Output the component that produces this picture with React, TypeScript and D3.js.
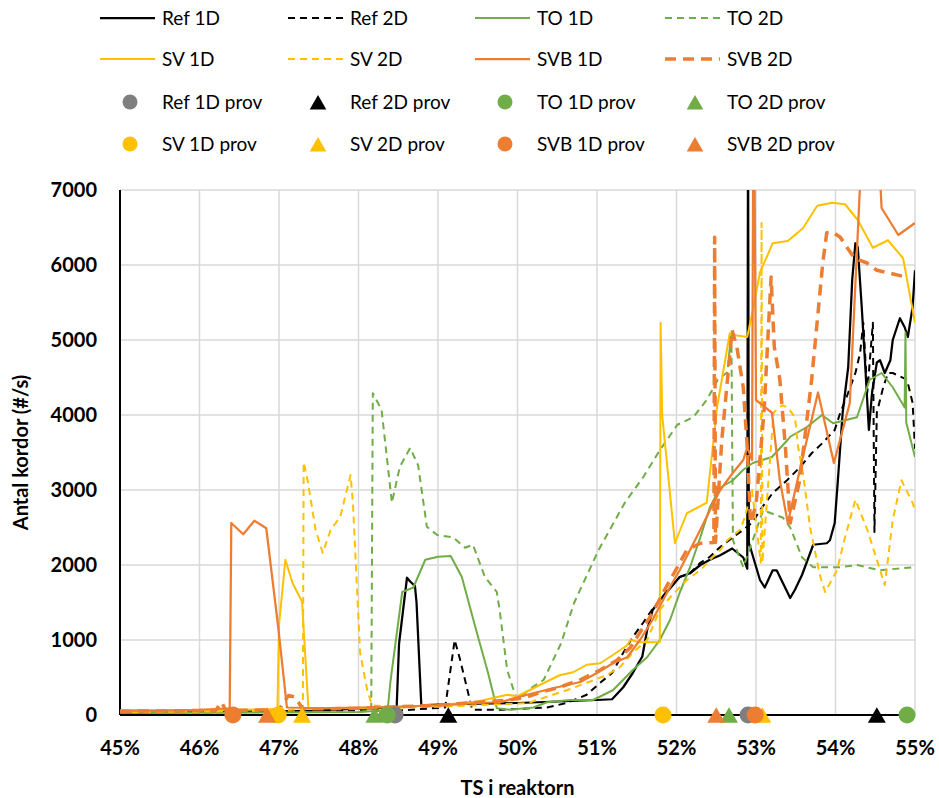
import React from 'react'
import * as d3 from 'd3'

// TS (%) vs antal kordor (#/s)
const ref1D: [number, number][] = [
  [45, 30], [46, 40], [47, 50], [47.5, 60], [48, 85], [48.3, 95], [48.48, 100], [48.51, 950], [48.61, 1830],
  [48.65, 1780], [48.71, 1720], [48.73, 1500], [48.79, 130], [49, 140], [49.5, 150], [50, 160], [50.5, 180],
  [51, 200], [51.19, 210], [51.33, 370], [51.45, 560], [51.57, 780], [51.63, 1130], [51.7, 1400], [51.79, 1530],
  [51.92, 1690], [52.04, 1840], [52.17, 1890], [52.3, 2000], [52.42, 2070], [52.55, 2130], [52.7, 2220],
  [52.77, 2160], [52.84, 2100], [52.89, 1950], [52.9, 8000], [52.91, 2300], [53.05, 1800],
  [53.11, 1700], [53.21, 1930], [53.26, 1930], [53.43, 1560], [53.49, 1670], [53.58, 1870], [53.72, 2270],
  [53.89, 2290], [53.93, 2330], [53.99, 2560], [54.03, 3130], [54.09, 4030], [54.16, 4640], [54.21, 5800],
  [54.25, 6290], [54.28, 6240], [54.33, 5440], [54.37, 4730], [54.42, 3800], [54.46, 4300], [54.52, 4700],
  [54.56, 4730], [54.62, 4560], [54.69, 4730], [54.72, 5000], [54.81, 5290], [54.87, 5170], [54.91, 5040],
  [54.97, 5440], [55, 5930],
]
const ref2D: [number, number][] = [
  [45, 40], [46, 45], [47, 50], [48, 60], [48.5, 60], [49.09, 100], [49.21, 1000], [49.28, 730], [49.38, 290],
  [49.43, 70], [49.8, 70], [50.37, 100], [50.62, 160], [50.87, 270], [51.04, 430], [51.19, 560], [51.33, 830],
  [51.45, 1040], [51.58, 1230], [51.69, 1400], [51.79, 1530], [51.92, 1710], [52.04, 1840], [52.17, 1890],
  [52.3, 2030], [52.42, 2110], [52.55, 2240], [52.7, 2360], [52.84, 2470], [52.96, 2570], [53.05, 2730],
  [53.21, 2960], [53.39, 3130], [53.55, 3300], [53.7, 3490], [53.84, 3630], [53.99, 3800], [54.06, 4030],
  [54.14, 4240], [54.25, 4560], [54.31, 4830], [54.35, 5230], [54.4, 4300], [54.47, 5230], [54.49, 2440],
  [54.52, 4030], [54.6, 4370], [54.66, 4560], [54.72, 4560], [54.9, 4470], [54.97, 4160], [55, 3550],
]
const to1D: [number, number][] = [
  [45, 30], [46, 30], [47, 35], [48, 40], [48.3, 60], [48.37, 100], [48.4, 430], [48.55, 1640], [48.69, 1700],
  [48.84, 2070], [49, 2110], [49.16, 2120], [49.3, 1840], [49.47, 1170], [49.63, 560], [49.74, 90], [49.9, 70],
  [50.2, 100], [50.37, 170], [50.66, 200], [50.95, 200], [51.2, 330], [51.33, 470], [51.45, 600], [51.63, 770],
  [51.79, 1000], [51.92, 1270], [52.04, 1630], [52.17, 1970], [52.3, 2370], [52.42, 2770], [52.55, 3030],
  [52.71, 3130], [52.84, 3270], [52.96, 3360], [53.2, 3440], [53.4, 3670], [53.43, 3710], [53.64, 3840],
  [53.83, 4000], [53.97, 3890], [54.27, 3970], [54.43, 4470], [54.58, 4560], [54.72, 4370], [54.87, 4100],
  [54.88, 5100], [54.89, 3900], [55, 3440],
]
const to2D: [number, number][] = [
  [45, 30], [46, 30], [47, 40], [48, 40], [48.16, 60], [48.18, 4290], [48.29, 4070], [48.35, 3500],
  [48.42, 2830], [48.52, 3310], [48.65, 3560], [48.75, 3330], [48.86, 2510], [48.99, 2400], [49.19, 2370],
  [49.34, 2230], [49.44, 2270], [49.59, 1840], [49.74, 1640], [49.78, 1360], [49.87, 600], [49.97, 270],
  [50.03, 200], [50.13, 330], [50.33, 470], [50.55, 960], [50.71, 1490], [51.02, 2200], [51.35, 2830],
  [51.58, 3170], [51.79, 3530], [52.01, 3870], [52.21, 3970], [52.38, 4200], [52.52, 4470], [52.64, 4570],
  [52.69, 5100], [52.71, 2330], [52.84, 1970], [53.09, 2730], [53.34, 2630], [53.43, 2500], [53.58, 2100],
  [53.72, 1970], [54.06, 1970], [54.27, 2000], [54.56, 1930], [54.97, 1970], [55, 1970],
]
const sv1D: [number, number][] = [
  [45, 60], [46, 60], [46.5, 70], [46.98, 80], [47, 1200], [47.08, 2070], [47.17, 1760], [47.29, 1510],
  [47.37, 90], [48, 90], [48.5, 110], [49, 130], [49.5, 180], [49.87, 270], [50, 250], [50.28, 400],
  [50.53, 530], [50.7, 570], [50.87, 670], [51.04, 690], [51.2, 800], [51.38, 930], [51.42, 1000],
  [51.54, 970], [51.79, 970], [51.8, 5230], [51.82, 4000], [51.98, 2290], [52.13, 2690], [52.38, 2830],
  [52.51, 4100], [52.67, 5090], [52.76, 5060], [52.89, 5040], [52.96, 5400], [53.05, 5900], [53.21, 6290],
  [53.4, 6320], [53.59, 6490], [53.77, 6790], [53.96, 6830], [54.12, 6810], [54.28, 6600], [54.47, 6230],
  [54.66, 6330], [54.85, 6090], [55, 5230],
]
const sv2D: [number, number][] = [
  [45, 40], [46, 45], [47, 60], [47.3, 80], [47.31, 3370], [47.36, 3130], [47.46, 2470], [47.55, 2160],
  [47.65, 2470], [47.77, 2640], [47.9, 3200], [47.93, 2830], [47.99, 1490], [48.02, 830], [48.11, 330],
  [48.17, 130], [48.5, 100], [49, 110], [49.5, 130], [49.9, 150], [50.13, 160], [50.62, 330], [50.87, 430],
  [51.12, 530], [51.29, 640], [51.45, 830], [51.63, 1000], [51.79, 1400], [51.92, 1570], [52.13, 1800],
  [52.3, 1930], [52.46, 2110], [52.55, 2200], [52.64, 2330], [52.8, 2470], [52.86, 2640], [52.95, 3000],
  [53.06, 2030], [53.07, 6560], [53.08, 2030], [53.22, 4030], [53.33, 4130], [53.4, 4100], [53.49, 3970],
  [53.53, 3570], [53.59, 3230], [53.68, 2500], [53.81, 1840], [53.87, 1640], [54.02, 1930], [54.1, 2290],
  [54.25, 2870], [54.4, 2470], [54.52, 2070], [54.62, 1730], [54.72, 2600], [54.83, 3130], [54.97, 2830],
  [55, 2730],
]
const svb1D: [number, number][] = [
  [45, 60], [45.5, 60], [46, 70], [46.2, 80], [46.38, 90], [46.4, 2560], [46.55, 2410], [46.69, 2590],
  [46.84, 2490], [46.99, 1170], [47.1, 100], [47.5, 90], [48, 100], [48.5, 110], [49, 130], [49.5, 160],
  [49.78, 170], [50.12, 270], [50.5, 370], [50.79, 440], [51, 560], [51.2, 690], [51.38, 770], [51.54, 1000],
  [51.7, 1270], [51.83, 1530], [51.92, 1710], [52.04, 1930], [52.17, 2200], [52.3, 2470], [52.42, 2730],
  [52.55, 3000], [52.71, 3230], [52.84, 3400], [52.89, 3570], [52.95, 3400], [52.97, 9000], [53, 4200],
  [53.2, 4030], [53.3, 3130], [53.4, 2560], [53.58, 3400], [53.78, 4300], [53.98, 3360], [54.18, 4160],
  [54.35, 8000], [54.52, 8000], [54.58, 6760], [54.79, 6400], [55, 6560],
]
const svb2D: [number, number][] = [
  [45, 50], [45.5, 55], [46, 60], [46.2, 60], [46.28, 170], [46.33, 60], [47, 70], [47.08, 200],
  [47.12, 260], [47.2, 240], [47.3, 80], [48, 90], [48.5, 110], [49, 130], [49.5, 170], [49.9, 200],
  [50.12, 240], [50.28, 300], [50.53, 370], [50.79, 470], [51.04, 600], [51.25, 730], [51.42, 900],
  [51.54, 1100], [51.7, 1360], [51.83, 1630], [52.01, 1970], [52.13, 2200], [52.3, 2290], [52.47, 2300],
  [52.48, 6370], [52.49, 2300], [52.57, 3670], [52.7, 5130], [52.76, 4900], [52.84, 4370], [52.89, 3570],
  [52.93, 2560], [53, 2800], [53.1, 4030], [53.19, 5840], [53.23, 4910], [53.3, 4470], [53.37, 3570],
  [53.43, 2560], [53.55, 3130], [53.7, 4470], [53.78, 5360], [53.84, 6030], [53.89, 6430], [53.96, 6440],
  [54.06, 6370], [54.14, 6240], [54.24, 6090], [54.39, 6030], [54.52, 5930], [54.69, 5890], [54.88, 5840],
]

// provpunkter (TS %) at 0
const ref1DProv = [48.46, 52.9]
const ref2DProv = [49.13, 54.52]
const to1DProv = [48.36, 54.9]
const to2DProv = [48.2, 52.66]
const sv1DProv = [46.99, 51.83]
const sv2DProv = [47.29, 53.08]
const svb1DProv = [46.42, 52.99]
const svb2DProv = [46.85, 52.5]

const xTicks = [45, 46, 47, 48, 49, 50, 51, 52, 53, 54, 55]
const yTicks = [0, 1000, 2000, 3000, 4000, 5000, 6000, 7000]

const BLACK = '#000000'
const GREEN = '#70AD47'
const YELLOW = '#FFC000'
const ORANGE = '#ED7D31'
const GRAY = '#7F7F7F'

const lines = [
  { name: 'Ref 1D', data: ref1D, color: BLACK, w: 2.25, dash: '' },
  { name: 'Ref 2D', data: ref2D, color: BLACK, w: 2, dash: '7,5' },
  { name: 'TO 1D', data: to1D, color: GREEN, w: 2, dash: '' },
  { name: 'TO 2D', data: to2D, color: GREEN, w: 2, dash: '7,5' },
  { name: 'SV 1D', data: sv1D, color: YELLOW, w: 2, dash: '' },
  { name: 'SV 2D', data: sv2D, color: YELLOW, w: 2, dash: '7,5' },
  { name: 'SVB 1D', data: svb1D, color: ORANGE, w: 2.25, dash: '' },
  { name: 'SVB 2D', data: svb2D, color: ORANGE, w: 3.5, dash: '11,7' },
]

const provs = [
  { name: 'Ref 1D prov', data: ref1DProv, color: GRAY, shape: 'c' },
  { name: 'Ref 2D prov', data: ref2DProv, color: BLACK, shape: 't' },
  { name: 'TO 1D prov', data: to1DProv, color: GREEN, shape: 'c' },
  { name: 'TO 2D prov', data: to2DProv, color: GREEN, shape: 't' },
  { name: 'SV 1D prov', data: sv1DProv, color: YELLOW, shape: 'c' },
  { name: 'SV 2D prov', data: sv2DProv, color: YELLOW, shape: 't' },
  { name: 'SVB 1D prov', data: svb1DProv, color: ORANGE, shape: 'c' },
  { name: 'SVB 2D prov', data: svb2DProv, color: ORANGE, shape: 't' },
]

const FONT = "Lato, 'Open Sans', sans-serif"

const App = () => {
  const left = 120, right = 915, top = 190, bottom = 715

  const x = d3.scaleLinear().domain([45, 55]).range([left, right])
  const y = d3.scaleLinear().domain([0, 7000]).range([bottom, top])

  const line = d3.line<[number, number]>().x(d => x(d[0])).y(d => y(d[1]))
  const tri = d3.symbol(d3.symbolTriangle, 140)()
  const triLegend = d3.symbol(d3.symbolTriangle, 120)()

  const colX = [100, 288, 475, 665]
  const rowY = [18, 59, 102, 144]

  const marker = (shape: string, color: string, cx: number, cy: number, key: string, small = false) =>
    shape === 'c'
      ? <circle key={key} cx={cx} cy={cy} r={small ? 7.5 : 8.5} fill={color} />
      : <path key={key} d={small ? triLegend : tri} transform={`translate(${cx},${cy + 2.6})`} fill={color} />

  return (
    <svg width={939} height={798} style={{ position: 'absolute', left: 0, top: 0, background: '#fff' }} fontFamily={FONT}>
      <defs>
        <clipPath id="plot">
          <rect x={left} y={top} width={right - left} height={bottom - top + 3} />
        </clipPath>
      </defs>

      {/* grid */}
      {yTicks.map(t => (
        <line key={'gy' + t} x1={left} x2={right} y1={y(t)} y2={y(t)} stroke="#D9D9D9" strokeWidth={1.5} />
      ))}
      {xTicks.map(t => (
        <line key={'gx' + t} x1={x(t)} x2={x(t)} y1={top} y2={bottom} stroke="#D9D9D9" strokeWidth={1.5} />
      ))}

      {/* axes */}
      <line x1={left} x2={left} y1={top} y2={bottom} stroke="#000" strokeWidth={2} />
      <line x1={left} x2={right} y1={bottom} y2={bottom} stroke="#000" strokeWidth={2} />

      {yTicks.map(t => (
        <text key={'ty' + t} x={97} y={y(t)} dy="0.35em" textAnchor="end" fontSize={20} fontWeight={700}>{t}</text>
      ))}
      {xTicks.map(t => (
        <text key={'tx' + t} x={x(t)} y={755} textAnchor="middle" fontSize={20} fontWeight={700}>{t}%</text>
      ))}
      <text x={(left + right) / 2} y={795} textAnchor="middle" fontSize={20} fontWeight={700}>TS i reaktorn</text>
      <text transform={`translate(28,${(top + bottom) / 2}) rotate(-90)`} textAnchor="middle" fontSize={20} fontWeight={700}>
        Antal kordor (#/s)
      </text>

      {/* series */}
      <g clipPath="url(#plot)">
        {lines.map(s => (
          <path key={s.name} d={line(s.data) || ''} fill="none" stroke={s.color} strokeWidth={s.w}
            strokeDasharray={s.dash || undefined} strokeLinejoin="round" />
        ))}
      </g>
      {provs.map(p => p.data.map((v, i) => marker(p.shape, p.color, x(v), y(0), p.name + i)))}

      {/* legend */}
      {lines.map((s, i) => {
        const cx = colX[i % 4], cy = rowY[Math.floor(i / 4)]
        return (
          <g key={'l' + s.name}>
            <line x1={cx} x2={cx + 55} y1={cy} y2={cy} stroke={s.color} strokeWidth={s.w}
              strokeDasharray={s.dash || undefined} />
            <text x={cx + 62} y={cy} dy="0.35em" fontSize={19}>{s.name}</text>
          </g>
        )
      })}
      {provs.map((p, i) => {
        const cx = colX[i % 4], cy = rowY[2 + Math.floor(i / 4)]
        return (
          <g key={'lp' + p.name}>
            {marker(p.shape, p.color, cx + 30, cy, 'm', true)}
            <text x={cx + 62} y={cy} dy="0.35em" fontSize={19}>{p.name}</text>
          </g>
        )
      })}
    </svg>
  )
}

export default App
